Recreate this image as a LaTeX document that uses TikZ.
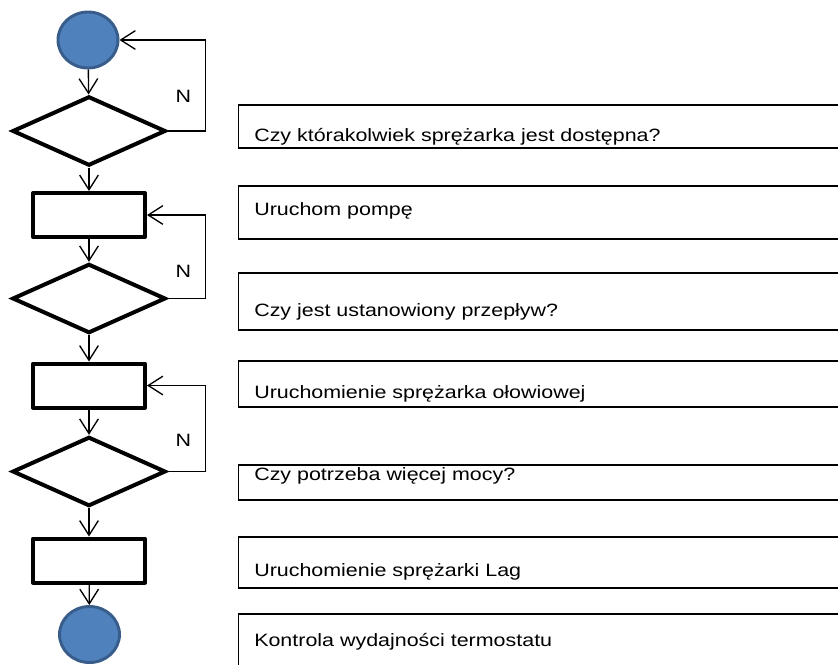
\documentclass[tikz,border=0pt]{standalone}
\usepackage{fontspec}
\setmainfont[FakeStretch=1.2]{Liberation Sans}
\usetikzlibrary{arrows.meta, shapes.geometric}
\definecolor{termfill}{HTML}{4F81BD}
\definecolor{termline}{HTML}{385D8A}

\begin{document}
\begin{tikzpicture}[x=0.75pt, y=-0.75pt, font=\fontsize{13.4}{15}\selectfont,
  term/.style={ellipse, draw=termline, fill=termfill, line width=2.2pt, minimum width=45pt, minimum height=42pt, inner sep=0pt},
  act/.style={rectangle, draw, line width=3pt, line join=round, minimum width=84pt, minimum height=33pt, inner sep=0pt},
  test/.style={diamond, draw, line width=3pt, minimum width=115pt, minimum height=52pt, inner sep=0pt},
  flow/.style={-{Straight Barb[length=11pt, width=14pt]}, line width=1pt},
  desc/.style={draw, line width=1.1pt},
  desctext/.style={anchor=base west, inner sep=0pt}]

\clip (0,0) rectangle (838,664);

\node[term] (start) at (88,40) {}; \node[test] (d1) at (89,131) {};
\node[act] (r1) at (89,215) {}; \node[test] (d2) at (89,298.5) {};
\node[act] (r2) at (89,385.5) {}; \node[test] (d3) at (89,471.5) {};
\node[act] (r3) at (89,560.5) {}; \node[term] (stop) at (89.5,634.5) {};

\draw[flow] (start)--(d1); \draw[flow] (d1)--(r1); \draw[flow] (r1)--(d2); \draw[flow] (d2)--(r2);
\draw[flow] (r2)--(d3); \draw[flow] (d3)--(r3); \draw[flow] (r3)--(stop);

\draw[flow] (d1.east) -- ++(38,0) |- node[pos=0.19, left=7pt] (n1) {N} (start.east);
\draw[flow] (d2.east) -- ++(38,0) |- node[pos=0.16, left=7pt] (n2) {N} (r1.east);
\draw[flow] (d3.east) -- ++(38,0) |- node[pos=0.18, left=7pt] (n3) {N} (r2.east);

\foreach \top/\bot/\base/\txt [count=\i] in {105/148/141.5/{Czy którakolwiek sprężarka jest dostępna?},
  186/239/215/{Uruchom pompę}, 273/330/316.7/{Czy jest ustanowiony przepływ?},
  361/407/398.3/{Uruchomienie sprężarka ołowiowej}, 465/500/480/{Czy potrzeba więcej mocy?},
  537/588/576.7/{Uruchomienie sprężarki Lag}, 614/690/646.7/{Kontrola wydajności termostatu}} {
  \node[desctext] (t\i) at (254,\base) {\txt};
  \draw[desc] (238.5,\top) rectangle (850,\bot);
}
\end{tikzpicture}
\end{document}
